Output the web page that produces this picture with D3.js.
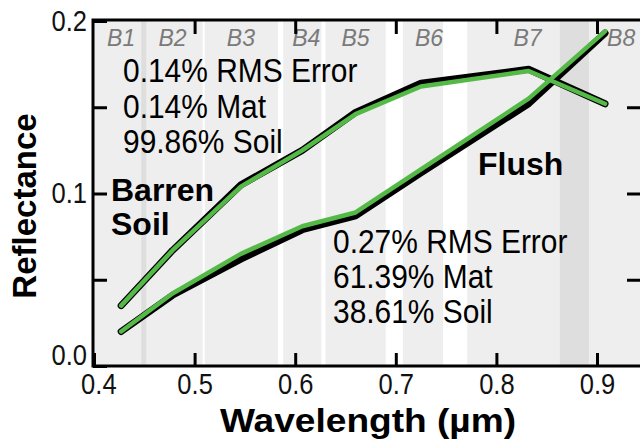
<!DOCTYPE html>
<html>
<head>
<meta charset="utf-8">
<script src="https://cdn.jsdelivr.net/npm/d3@7"></script>
<style>
    body { margin: 0; background: #fff; }
    svg { display: block; font-family: "Liberation Sans", Arial, sans-serif; }
</style>
</head>
<body>
<div id="chart"></div>
<script>
// WorldView-2 style bands (µm)
const bandNames = ["B1", "B2", "B3", "B4", "B5", "B6", "B7", "B8"]
const bandStart = [0.400, 0.447, 0.510, 0.588, 0.630, 0.707, 0.771, 0.863]
const bandEnd = [0.452, 0.508, 0.583, 0.626, 0.690, 0.747, 0.892, 1.040]
const bandLabelAt = [0.427, 0.478, 0.546, 0.611, 0.660, 0.733, 0.831, 0.924]

// spectra sampled at band centres
const wavelength = [0.427, 0.478, 0.546, 0.607, 0.660, 0.725, 0.832, 0.908]
const soilMeasured = [0.035, 0.067, 0.105, 0.125, 0.147, 0.164, 0.172, 0.152]
const soilModeled = [0.035, 0.067, 0.104, 0.125, 0.146, 0.162, 0.171, 0.152]
const flushMeasured = [0.020, 0.041, 0.062, 0.079, 0.087, 0.112, 0.152, 0.193]
const flushModeled = [0.020, 0.042, 0.065, 0.081, 0.089, 0.114, 0.155, 0.194]

// axis ticks
const xTicks = [0.4, 0.5, 0.6, 0.7, 0.8, 0.9]
const yTicks = [0, 0.05, 0.1, 0.15, 0.2]
const yTickLabels = ["0.0", "", "0.1", "", "0.2"]

// annotations
const soilStats = ["0.14% RMS Error", "0.14% Mat", "99.86% Soil"]
const flushStats = ["0.27% RMS Error", "61.39% Mat", "38.61% Soil"]

//----------------------------------------------------------------------------
const width = 640
const height = 441
const green = "#55b947"

const svg = d3.select("#chart")
    .append("svg")
    .attr("width", width)
    .attr("height", height)

const x = d3.scaleLinear()
    .domain([0.4, 0.9])
    .range([94, 597])

const y = d3.scaleLinear()
    .domain([0, 0.2])
    .range([366, 21])

const plotLeft = x(0.4) - 1
const plotRight = 640
const plotTop = y(0.2) - 1
const plotBottom = y(0)
const xMax = x.invert(plotRight)

//----------------------------------------------------------------------------
//band shading, overlap gets darker
svg.append("g")
    .selectAll("rect")
    .data(bandNames)
    .join("rect")
    .attr("x", (d, i) => x(Math.max(bandStart[i], 0.4)))
    .attr("width", (d, i) => x(Math.min(bandEnd[i], xMax)) - x(Math.max(bandStart[i], 0.4)))
    .attr("y", plotTop)
    .attr("height", plotBottom - plotTop)
    .attr("fill", "#000")
    .attr("fill-opacity", 0.065)

svg.append("g")
    .selectAll("text")
    .data(bandNames)
    .join("text")
    .attr("x", (d, i) => x(bandLabelAt[i]))
    .attr("y", 46)
    .attr("text-anchor", "middle")
    .attr("font-size", 23)
    .attr("font-style", "italic")
    .attr("fill", "#7a7a7a")
    .text(d => d)

//----------------------------------------------------------------------------
//annotations
svg.append("g")
    .selectAll("text")
    .data(soilStats)
    .join("text")
    .attr("class", "narrow")
    .attr("x", 123)
    .attr("y", (d, i) => 82 + i * 35.5)
    .attr("font-size", 34)
    .text(d => d)

svg.append("g")
    .selectAll("text")
    .data(flushStats)
    .join("text")
    .attr("class", "narrow")
    .attr("x", 333)
    .attr("y", (d, i) => 253 + i * 35)
    .attr("font-size", 34)
    .text(d => d)

svg.append("text")
    .attr("x", 111)
    .attr("y", 201)
    .attr("font-size", 32)
    .attr("font-weight", "bold")
    .text("Barren")

svg.append("text")
    .attr("x", 111)
    .attr("y", 235)
    .attr("font-size", 32)
    .attr("font-weight", "bold")
    .text("Soil")

svg.append("text")
    .attr("x", 478)
    .attr("y", 175)
    .attr("font-size", 32)
    .attr("font-weight", "bold")
    .text("Flush")

//----------------------------------------------------------------------------
//spectra: measured in black underneath, modeled in green on top
const line = d3.line()
    .x((d, i) => x(wavelength[i]))
    .y(d => y(d))

const spectra = [
    { values: soilMeasured, color: "#000", w: 7 },
    { values: flushMeasured, color: "#000", w: 7 },
    { values: soilModeled, color: green, w: 4.5 },
    { values: flushModeled, color: green, w: 4.5 }
]

svg.append("g")
    .selectAll("path")
    .data(spectra)
    .join("path")
    .attr("d", d => line(d.values))
    .attr("fill", "none")
    .attr("stroke", d => d.color)
    .attr("stroke-width", d => d.w)
    .attr("stroke-linecap", "round")
    .attr("stroke-linejoin", "round")

//----------------------------------------------------------------------------
//axes
const xAxis = svg.append("g")
    .attr("transform", `translate(0,${plotBottom})`)
    .call(d3.axisBottom(x).tickValues(xTicks).tickSizeInner(-13).tickSizeOuter(0).tickPadding(7).tickFormat(d3.format(".1f")))

const yAxis = svg.append("g")
    .attr("transform", `translate(${plotLeft},0)`)
    .call(d3.axisLeft(y).tickValues(yTicks).tickSizeInner(-14).tickSizeOuter(0).tickPadding(6).tickFormat((d, i) => yTickLabels[i]))

svg.append("g")
    .attr("transform", `translate(0,${plotTop})`)
    .call(d3.axisTop(x).tickValues(xTicks.slice(1)).tickSizeInner(-14).tickSizeOuter(0).tickFormat(""))

svg.append("g")
    .attr("transform", `translate(${plotRight},0)`)
    .call(d3.axisRight(y).tickValues(yTicks.slice(1, 4)).tickSizeInner(-13).tickSizeOuter(0).tickFormat(""))

svg.selectAll(".domain").remove()
svg.selectAll(".tick line").attr("stroke", "#000").attr("stroke-width", 3)

svg.selectAll(".tick text")
    .attr("class", "narrow")
    .attr("font-size", 29)
    .attr("font-family", "'Liberation Sans', Arial, sans-serif")
    .attr("fill", "#111")

//0.0 sits a bit above the corner
yAxis.selectAll(".tick text").filter(d => d === 0).attr("dy", "-0.05em")
xAxis.selectAll(".tick text").filter(d => d === 0.4).attr("dx", "0.15em")

//frame
svg.append("path")
    .attr("d", `M${plotRight + 2},${plotTop} H${plotLeft} V${plotBottom} H${plotRight + 2}`)
    .attr("fill", "none")
    .attr("stroke", "#000")
    .attr("stroke-width", 3)

//axis titles
svg.append("text")
    .attr("x", 368)
    .attr("y", 432)
    .attr("text-anchor", "middle")
    .attr("font-size", 34)
    .attr("font-weight", "bold")
    .attr("textLength", 296)
    .attr("lengthAdjust", "spacingAndGlyphs")
    .text("Wavelength (µm)")

svg.append("text")
    .attr("transform", "translate(36,206) rotate(-90)")
    .attr("text-anchor", "middle")
    .attr("font-size", 33)
    .attr("font-weight", "bold")
    .text("Reflectance")

//narrow type like the original
svg.selectAll("text.narrow").each(function () {
    const w = this.getComputedTextLength()
    d3.select(this).attr("textLength", w * 0.88).attr("lengthAdjust", "spacingAndGlyphs")
})
</script>
</body>
</html>
